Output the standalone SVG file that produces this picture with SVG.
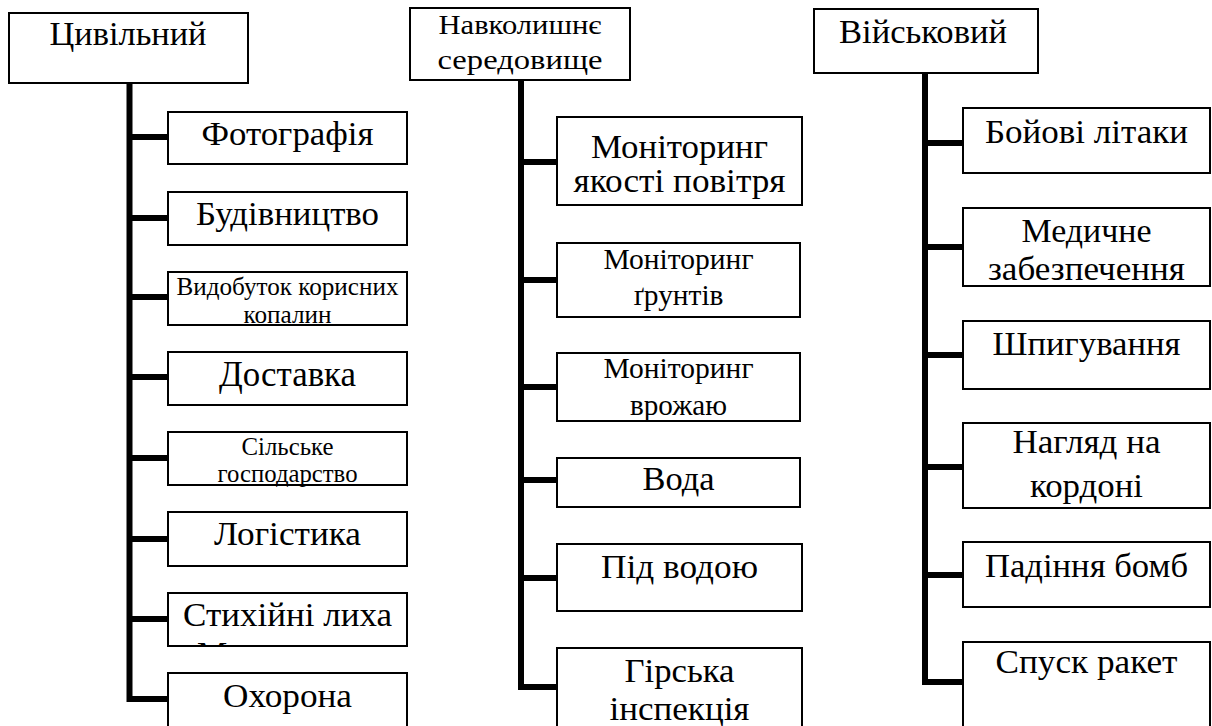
<svg xmlns="http://www.w3.org/2000/svg" width="1212" height="726" viewBox="0 0 1212 726">
<style>
.box{fill:#fff;stroke:#000;stroke-width:2}
.conn{fill:none;stroke:#000;stroke-width:6;stroke-linejoin:miter;stroke-linecap:butt}
</style>
<defs>
<clipPath id="c1"><rect x="168" y="593" width="239" height="54"/></clipPath>
</defs>
<rect width="1212" height="726" fill="#fff"/>
<g id="connectors">
<path class="conn" d="M129.5,83 V699 H168 M129.5,137 H168 M129.5,218 H168 M129.5,297 H168 M129.5,377 H168 M129.5,458 H168 M129.5,539 H168 M129.5,619 H168"/>
<path class="conn" d="M521,80 V687 H557 M521,162 H557 M521,280 H557 M521,387 H557 M521,480 H557 M521,578 H557"/>
<path class="conn" d="M925,73 V682 H963 M925,143 H963 M925,247 H963 M925,355 H963 M925,467 H963 M925,575 H963"/>
</g>
<g id="civil"><rect class="box" x="9" y="13" width="239" height="70"/><text font-size="34" font-family="serif" x="49.5" y="45" textLength="157" lengthAdjust="spacingAndGlyphs">Цивільний</text></g>
<g id="photo"><rect class="box" x="168" y="112" width="239" height="52"/><text font-size="34" font-family="serif" x="201.5" y="145" textLength="172" lengthAdjust="spacingAndGlyphs">Фотографія</text></g>
<g id="build"><rect class="box" x="168" y="192" width="239" height="53"/><text font-size="34" font-family="serif" x="196" y="225" textLength="183" lengthAdjust="spacingAndGlyphs">Будівництво</text></g>
<g id="mining"><rect class="box" x="168" y="272" width="239" height="53"/><text font-size="25" font-family="serif" x="176.5" y="295" textLength="222" lengthAdjust="spacingAndGlyphs">Видобуток корисних</text><text font-size="25" font-family="serif" x="243.5" y="323" textLength="88" lengthAdjust="spacingAndGlyphs">копалин</text></g>
<g id="delivery"><rect class="box" x="168" y="352" width="239" height="53"/><text font-size="35" font-family="serif" x="219" y="386" textLength="137" lengthAdjust="spacingAndGlyphs">Доставка</text></g>
<g id="agri"><rect class="box" x="168" y="432" width="239" height="53"/><text font-size="25" font-family="serif" x="241.5" y="455" textLength="92" lengthAdjust="spacingAndGlyphs">Сільське</text><text font-size="25" font-family="serif" x="217.5" y="482" textLength="140" lengthAdjust="spacingAndGlyphs">господарство</text></g>
<g id="logistics"><rect class="box" x="168" y="512" width="239" height="54"/><text font-size="34" font-family="serif" x="214" y="545" textLength="147" lengthAdjust="spacingAndGlyphs">Логістика</text></g>
<g id="disaster"><rect class="box" x="168" y="593" width="239" height="53"/><text font-size="34" font-family="serif" x="183" y="626" textLength="209" lengthAdjust="spacingAndGlyphs">Стихійні лиха</text><text font-size="34" font-family="serif" x="197" y="665" clip-path="url(#c1)">М</text></g>
<g id="security"><rect class="box" x="168" y="673" width="239" height="60"/><text font-size="34" font-family="serif" x="223" y="707" textLength="129" lengthAdjust="spacingAndGlyphs">Охорона</text></g>
<g id="env"><rect class="box" x="410" y="8" width="220" height="72"/><text font-size="28" font-family="serif" x="438.5" y="34" textLength="163" lengthAdjust="spacingAndGlyphs">Навколишнє</text><text font-size="28" font-family="serif" x="437.5" y="69" textLength="165" lengthAdjust="spacingAndGlyphs">середовище</text></g>
<g id="air"><rect class="box" x="557" y="117" width="245" height="88"/><text font-size="34" font-family="serif" x="591" y="158" textLength="177" lengthAdjust="spacingAndGlyphs">Моніторинг</text><text font-size="34" font-family="serif" x="573.5" y="192" textLength="212" lengthAdjust="spacingAndGlyphs">якості повітря</text></g>
<g id="soil"><rect class="box" x="557" y="243" width="243" height="74"/><text font-size="29" font-family="serif" x="603.5" y="269" textLength="150" lengthAdjust="spacingAndGlyphs">Моніторинг</text><text font-size="29" font-family="serif" x="633.5" y="305" textLength="90" lengthAdjust="spacingAndGlyphs">ґрунтів</text></g>
<g id="crop"><rect class="box" x="557" y="353" width="243" height="68"/><text font-size="29" font-family="serif" x="603.5" y="378" textLength="150" lengthAdjust="spacingAndGlyphs">Моніторинг</text><text font-size="29" font-family="serif" x="630" y="415" textLength="97" lengthAdjust="spacingAndGlyphs">врожаю</text></g>
<g id="water"><rect class="box" x="557" y="458" width="243" height="49"/><text font-size="34" font-family="serif" x="642.5" y="490" textLength="72" lengthAdjust="spacingAndGlyphs">Вода</text></g>
<g id="underwater"><rect class="box" x="557" y="544" width="245" height="67"/><text font-size="34" font-family="serif" x="601" y="578" textLength="157" lengthAdjust="spacingAndGlyphs">Під водою</text></g>
<g id="mountain"><rect class="box" x="557" y="648" width="245" height="85"/><text font-size="34" font-family="serif" x="624.5" y="682" textLength="110" lengthAdjust="spacingAndGlyphs">Гірська</text><text font-size="34" font-family="serif" x="609.5" y="720" textLength="140" lengthAdjust="spacingAndGlyphs">інспекція</text></g>
<g id="military"><rect class="box" x="814" y="9" width="224" height="64"/><text font-size="34" font-family="serif" x="839" y="43" textLength="168" lengthAdjust="spacingAndGlyphs">Військовий</text></g>
<g id="fighters"><rect class="box" x="963" y="108" width="247" height="65"/><text font-size="34" font-family="serif" x="985" y="143" textLength="203" lengthAdjust="spacingAndGlyphs">Бойові літаки</text></g>
<g id="medical"><rect class="box" x="963" y="208" width="247" height="78"/><text font-size="34" font-family="serif" x="1021.5" y="242" textLength="130" lengthAdjust="spacingAndGlyphs">Медичне</text><text font-size="34" font-family="serif" x="988" y="280" textLength="197" lengthAdjust="spacingAndGlyphs">забезпечення</text></g>
<g id="spying"><rect class="box" x="963" y="321" width="247" height="68"/><text font-size="34" font-family="serif" x="992.5" y="355" textLength="188" lengthAdjust="spacingAndGlyphs">Шпигування</text></g>
<g id="border"><rect class="box" x="963" y="423" width="247" height="85"/><text font-size="34" font-family="serif" x="1012.5" y="453" textLength="148" lengthAdjust="spacingAndGlyphs">Нагляд на</text><text font-size="34" font-family="serif" x="1030" y="497" textLength="113" lengthAdjust="spacingAndGlyphs">кордоні</text></g>
<g id="bombs"><rect class="box" x="963" y="542" width="247" height="65"/><text font-size="34" font-family="serif" x="985" y="577" textLength="203" lengthAdjust="spacingAndGlyphs">Падіння бомб</text></g>
<g id="missiles"><rect class="box" x="963" y="642" width="247" height="90"/><text font-size="34" font-family="serif" x="995.5" y="673" textLength="182" lengthAdjust="spacingAndGlyphs">Спуск ракет</text></g>
</svg>
